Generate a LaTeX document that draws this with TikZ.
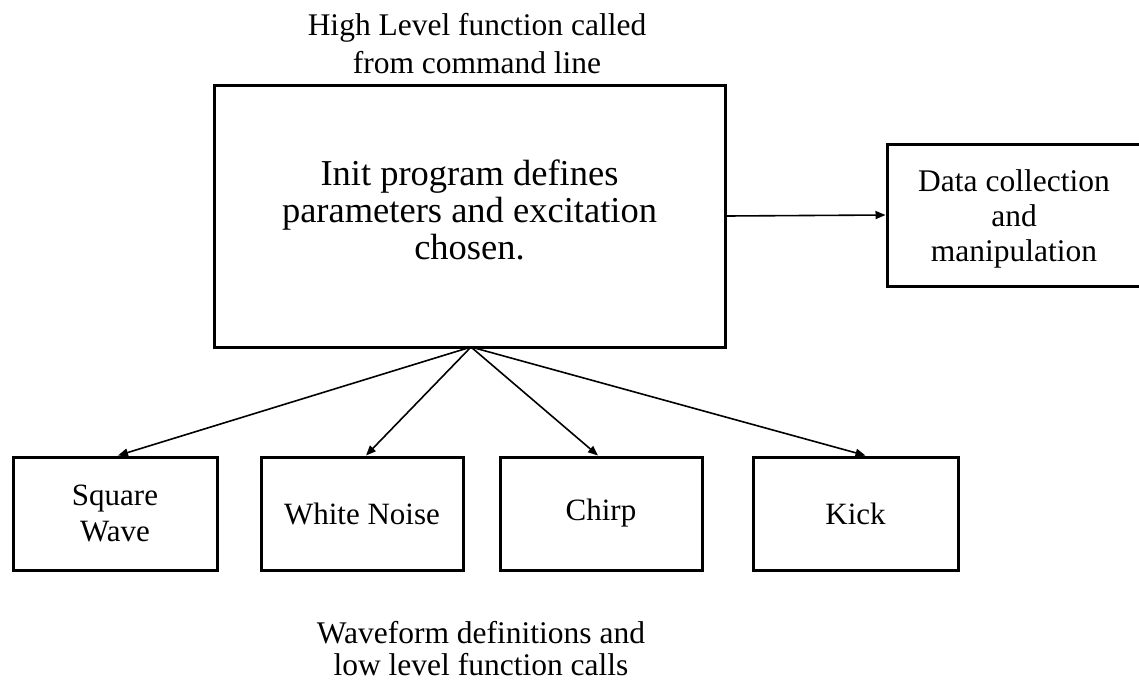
\documentclass[tikz,border=0pt]{standalone}
\usepackage{fontspec}
\setmainfont{Liberation Serif}
\usetikzlibrary{arrows.meta}
\begin{document}
\begin{tikzpicture}[x=1pt,y=-1pt,
  box/.style={draw,line width=3pt,align=center,inner sep=0pt},
  txt/.style={font=\fontsize{31}{36}\selectfont},
  lbl/.style={align=center,font=\fontsize{31.5}{38}\selectfont},
  arr/.style={line width=1.6pt,-{Triangle[length=10pt,width=8pt]}}]
\useasboundingbox (0,0) rectangle (1139,683);
\node[box,minimum width=511pt,minimum height=262pt] (init) at (469.5,216) {};
\node[align=center,font=\fontsize{36.5}{37}\selectfont] (initt) at ([yshift=6pt]init.center) {Init program defines\\parameters and excitation\\chosen.};
\node[box,minimum width=254pt,minimum height=142pt] (data) at (1014,215) {};
\node[align=center,font=\fontsize{31.5}{35}\selectfont] (datat) at ([yshift=-4pt]data.center) {Data collection\\and\\manipulation};
\node[box,minimum width=204pt,minimum height=113pt,txt] (sq) at (115,513.5) {Square\\Wave};
\node[box,minimum width=202pt,minimum height=113pt,txt] (wn) at (362,513.5) {White Noise};
\node[box,minimum width=202pt,minimum height=113pt,txt] (ch) at (601,513.5) {Chirp};
\node[box,minimum width=205pt,minimum height=113pt,txt] (ki) at (855.5,513.5) {Kick};
\node[lbl] (top) at (477,44) {High Level function called\\from command line};
\node[lbl,font=\fontsize{31.5}{32}\selectfont] (bot) at (481,649) {Waveform definitions and\\low level function calls};
\coordinate (o) at (471,347);
\draw[arr] (init.east) -- (data.west);
\draw[arr] (o) -- ([xshift=3pt]sq.north);
\draw[arr] (o) -- ([xshift=4pt]wn.north);
\draw[arr] (o) -- ([xshift=-3pt]ch.north);
\draw[arr] (o) -- ([xshift=10pt]ki.north);
\end{tikzpicture}
\end{document}
